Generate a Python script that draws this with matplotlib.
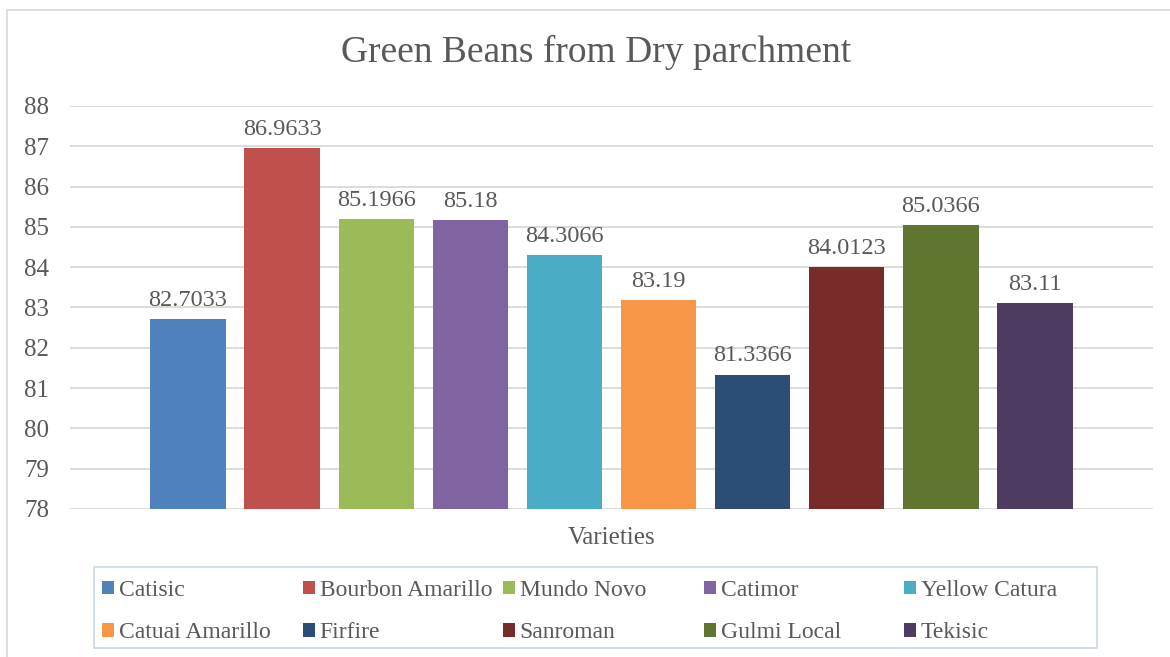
import numpy as np
import matplotlib.pyplot as plt
from matplotlib.patches import Rectangle

varieties = ['Catisic', 'Bourbon Amarillo', 'Mundo Novo', 'Catimor', 'Yellow Catura',
             'Catuai Amarillo', 'Firfire', 'Sanroman', 'Gulmi Local', 'Tekisic']
values = [82.7033, 86.9633, 85.1966, 85.18, 84.3066, 83.19, 81.3366, 84.0123, 85.0366, 83.11]
labels = ['82.7033', '86.9633', '85.1966', '85.18', '84.3066', '83.19', '81.3366',
          '84.0123', '85.0366', '83.11']
colors = ['#4F81BD', '#C0504D', '#9BBB59', '#8064A2', '#4BACC6',
          '#F79646', '#2C4D75', '#772C2A', '#5F7530', '#4D3B62']
yticks = [78, 79, 80, 81, 82, 83, 84, 85, 86, 87, 88]

txt = '#595959'
plt.rcParams['font.family'] = ['Liberation Serif', 'DejaVu Serif']

W, H = 1170, 657
fig = plt.figure(figsize=(W / 100, H / 100), dpi=100)
ax = fig.add_axes([70 / W, 1 - 509 / H, (1153 - 70) / W, (509 - 106) / H])

# outer chart frame
fig.patches.append(Rectangle((7 / W, -0.05), 1.2, 1 - 10 / H + 0.05, transform=fig.transFigure,
                             fill=False, edgecolor='#d9d9d9', linewidth=1.2))

x = np.arange(len(values))
bars = []
for i in range(len(values)):
    b = ax.bar(x[i], values[i] - 78, bottom=78, width=0.8, color=colors[i],
               label=varieties[i], zorder=3)
    bars.append(b)
    ax.text(x[i], values[i] + 0.2, labels[i], ha='center', va='bottom',
            fontsize=17.5, color=txt)

ax.set_ylim(78, 88)
ax.set_xlim(-1.254, len(values) - 1 + 1.254)
ax.set_yticks(yticks)
ax.set_xticks([])
ax.grid(axis='y', color='#d9d9d9', linewidth=1.3, zorder=0)
ax.tick_params(axis='y', length=0, pad=15, labelsize=18, labelcolor=txt)
for s in ax.spines.values():
    s.set_visible(False)

fig.text(612 / W, 1 - 538 / H, 'Varieties', ha='center', va='center', fontsize=18, color=txt)
fig.text(596 / W, 1 - 52 / H, 'Green Beans from Dry parchment', ha='center', va='center',
         fontsize=27, color=txt)

# legend box
fig.patches.append(Rectangle((94 / W, 1 - 648 / H), (1097 - 94) / W, (648 - 567) / H,
                             transform=fig.transFigure, fill=False,
                             edgecolor='#c9d8ec', linewidth=1.2))
col_x = [102, 303, 503, 704, 904]
for j in range(5):
    fig.legend(handles=[bars[j], bars[j + 5]], loc='upper left',
               bbox_to_anchor=(col_x[j] / W, 1 - 580 / H), frameon=False,
               fontsize=17, labelcolor=txt, handlelength=0.51, handleheight=0.51,
               handletextpad=0.2, labelspacing=0.9, borderpad=0, borderaxespad=0)

fig.savefig('out.png', dpi=100)
